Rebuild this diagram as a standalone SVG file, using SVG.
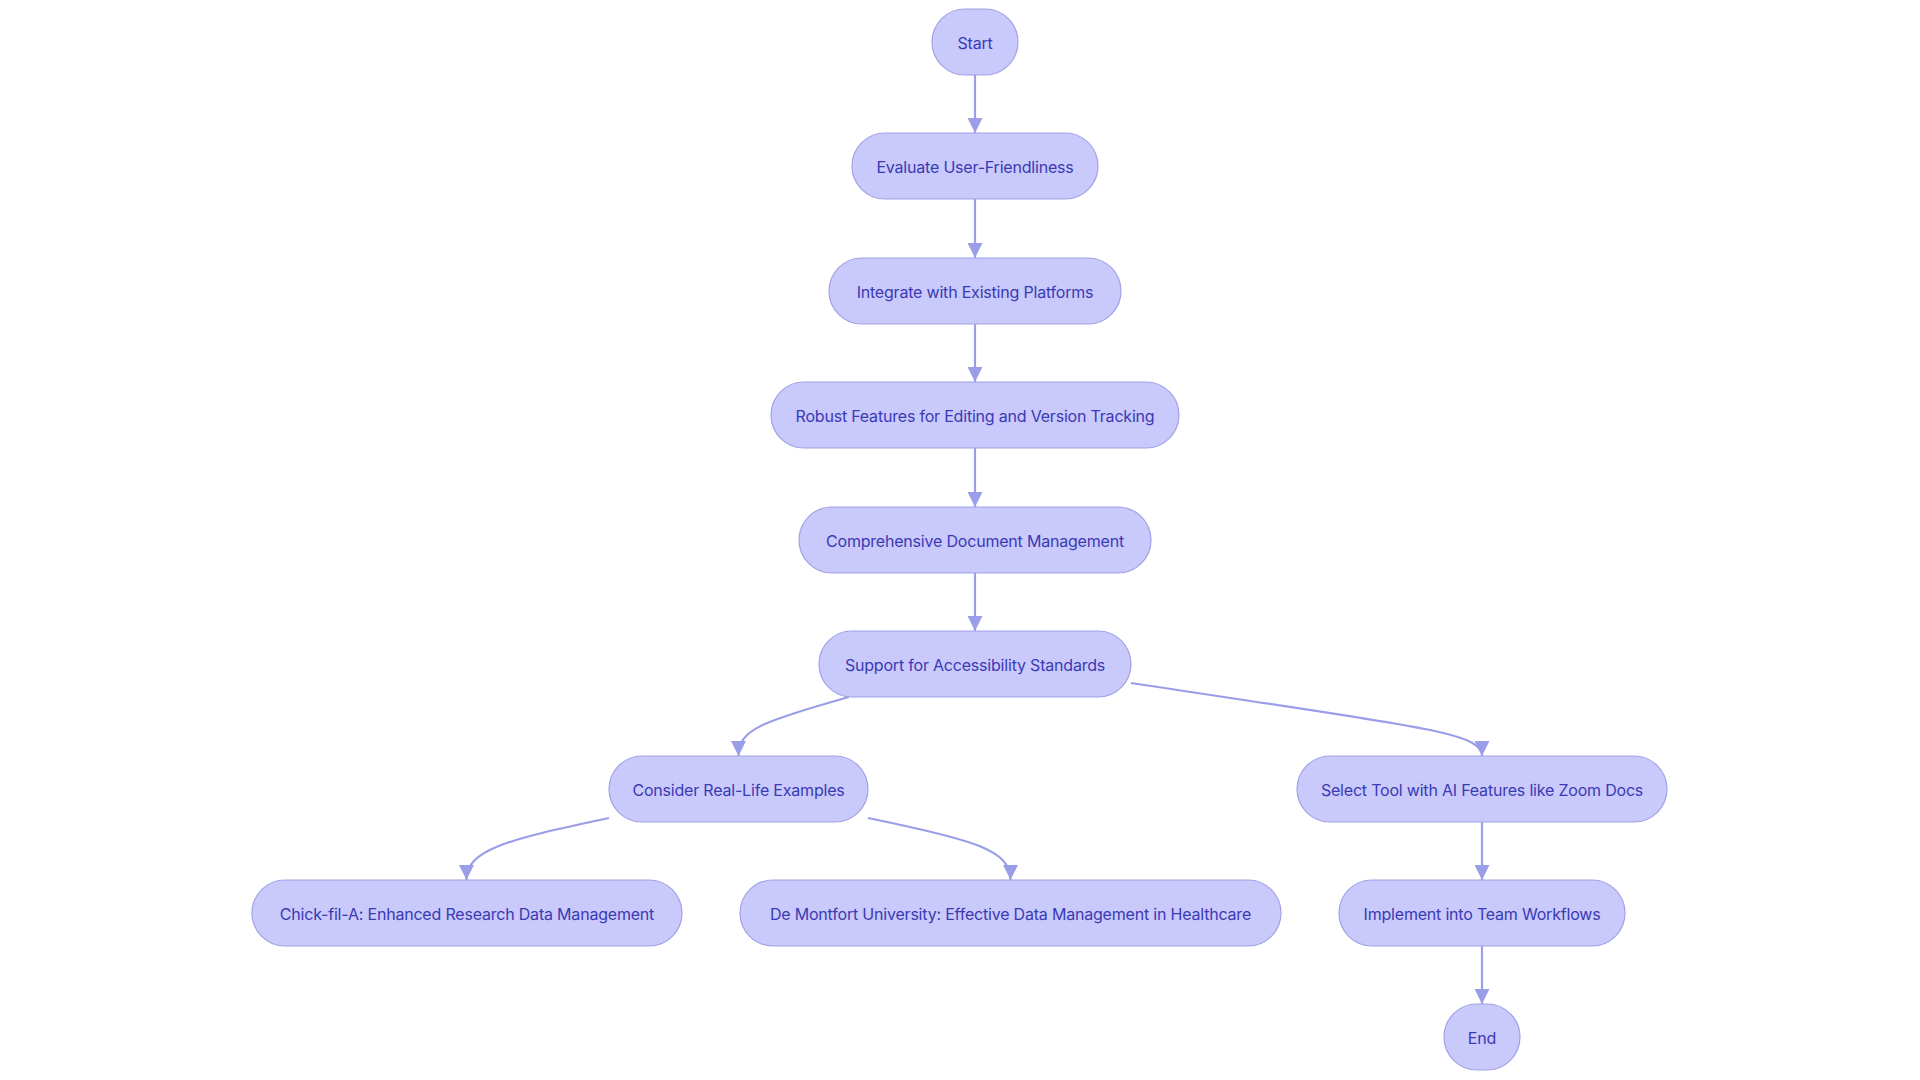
<svg xmlns="http://www.w3.org/2000/svg" width="1920" height="1080" viewBox="0 0 1920 1080">
<style>
.node rect{fill:#c9c9fb;stroke:#a0a2e6;stroke-width:1.2}
.node text{font-family:Inter,"Noto Sans","Liberation Sans",sans-serif;font-size:16px;fill:#3a3ab4;text-anchor:middle;letter-spacing:-0.2px}
.edges path{fill:none;stroke:#9a9ee8;stroke-width:2.2;marker-end:url(#arrow)}
</style>
<defs>
<marker id="arrow" viewBox="0 0 10 10" refX="10" refY="5" markerWidth="15" markerHeight="15" markerUnits="userSpaceOnUse" orient="auto">
<path d="M0,0 L10,5 L0,10 z" fill="#9a9ee8"/>
</marker>
</defs>
<rect width="1920" height="1080" fill="#ffffff"/>
<g id="edges" class="edges">
<path d="M975,75 L975,133"/>
<path d="M975,199 L975,258"/>
<path d="M975,324 L975,382"/>
<path d="M975,448 L975,507"/>
<path d="M975,573 L975,631"/>
<path d="M849,697 C760,722 738.5,730 738.5,756"/>
<path d="M1131,683 C1420,727 1482,732 1482,756"/>
<path d="M609,818 C505,840 466.5,850 466.5,880"/>
<path d="M868,818 C975,840 1010.5,850 1010.5,880"/>
<path d="M1482,822 L1482,880"/>
<path d="M1482,946 L1482,1004"/>
</g>
<g id="start" class="node"><rect x="932" y="9" width="86" height="66" rx="33"/><text x="975" y="48.5">Start</text></g>
<g id="evaluate" class="node"><rect x="852" y="133" width="246" height="66" rx="33"/><text x="975" y="172.5">Evaluate User-Friendliness</text></g>
<g id="integrate" class="node"><rect x="829" y="258" width="292" height="66" rx="33"/><text x="975" y="297.5">Integrate with Existing Platforms</text></g>
<g id="robust" class="node"><rect x="771" y="382" width="408" height="66" rx="33"/><text x="975" y="421.5">Robust Features for Editing and Version Tracking</text></g>
<g id="comprehensive" class="node"><rect x="799" y="507" width="352" height="66" rx="33"/><text x="975" y="546.5">Comprehensive Document Management</text></g>
<g id="support" class="node"><rect x="819" y="631" width="312" height="66" rx="33"/><text x="975" y="670.5">Support for Accessibility Standards</text></g>
<g id="consider" class="node"><rect x="609" y="756" width="259" height="66" rx="33"/><text x="738.5" y="795.5">Consider Real-Life Examples</text></g>
<g id="select" class="node"><rect x="1297" y="756" width="370" height="66" rx="33"/><text x="1482" y="795.5">Select Tool with AI Features like Zoom Docs</text></g>
<g id="chick" class="node"><rect x="252" y="880" width="430" height="66" rx="33"/><text x="467" y="919.5">Chick-fil-A: Enhanced Research Data Management</text></g>
<g id="demontfort" class="node"><rect x="740" y="880" width="541" height="66" rx="33"/><text x="1010.5" y="919.5">De Montfort University: Effective Data Management in Healthcare</text></g>
<g id="implement" class="node"><rect x="1339" y="880" width="286" height="66" rx="33"/><text x="1482" y="919.5">Implement into Team Workflows</text></g>
<g id="end" class="node"><rect x="1444" y="1004" width="76" height="66" rx="33"/><text x="1482" y="1043.5">End</text></g>
</svg>
